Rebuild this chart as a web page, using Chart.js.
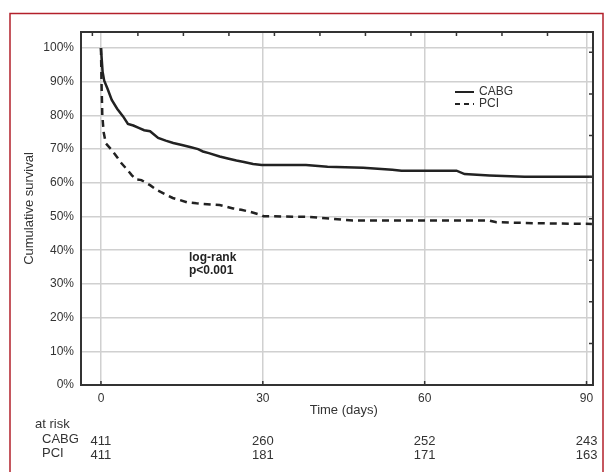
<!DOCTYPE html>
<html>
<head>
<meta charset="utf-8">
<script src="https://cdn.jsdelivr.net/npm/chart.js@4.4.1/dist/chart.umd.min.js"></script>
<style>
  html, body { margin: 0; padding: 0; background: #fff; }
  #wrap { position: relative; width: 606px; height: 472px; }
</style>
</head>
<body>
<div id="wrap"><canvas id="km" width="606" height="472"></canvas></div>
<script>
// Kaplan-Meier curves (days, % surviving)
var cabgDays = [0, 0.3, 0.6, 1.2, 2, 3, 4.1, 5, 6, 7, 8, 9.1, 10.6, 12, 13.4, 15, 16.5, 18, 18.9, 20, 22, 23.5, 25.1, 26.5, 28.2, 29.8, 38, 42, 48.6, 54, 55.7, 65.9, 67.4, 72, 78.5, 91];
var cabgSurv = [100, 93, 90.3, 88, 84.6, 82, 79.7, 77.5, 77, 76.3, 75.6, 75.3, 73.3, 72.5, 71.8, 71.2, 70.6, 70, 69.3, 68.8, 67.8, 67.2, 66.6, 66.2, 65.6, 65.3, 65.3, 64.8, 64.5, 63.9, 63.6, 63.6, 62.6, 62.2, 61.8, 61.8];
var pciDays = [0, 0.1, 0.25, 0.5, 0.9, 2, 3, 3.8, 4.8, 5.7, 6.5, 7.5, 9.1, 10.3, 12.2, 13.3, 14.6, 16, 17.7, 22, 24.5, 26, 27.6, 29.8, 30.1, 38.1, 42.4, 46.7, 72, 73.3, 80.7, 91];
var pciSurv = [100, 90, 80, 75, 71.7, 69.7, 67.6, 65.8, 64, 62.3, 61, 60.8, 59.3, 57.9, 56.4, 55.5, 54.9, 54.2, 53.9, 53.4, 52.4, 52, 51.4, 50.4, 50.1, 49.9, 49.4, 48.8, 48.8, 48.3, 48.0, 47.8];

var groups = ['CABG', 'PCI'];
var riskDays = [0, 30, 60, 90];
var cabgAtRisk = [411, 260, 252, 243];
var pciAtRisk = [411, 181, 171, 163];

function toPoints(xs, ys) {
    return xs.map(function (x, i) { return { x: x, y: ys[i] }; });
}

var FONT = '"Liberation Sans", Arial, Helvetica, sans-serif';
var INK = '#333';

// inward tick marks, table and annotations
var extras = {
    id: 'extras',
    afterDraw: function (chart) {
        var ctx = chart.ctx, a = chart.chartArea;
        var sx = chart.scales.x, sx2 = chart.scales.x2, sy2 = chart.scales.y2;
        ctx.save();
        ctx.strokeStyle = '#333';
        ctx.lineWidth = 1.5;
        ctx.beginPath();
        sx.ticks.forEach(function (t) {
            var p = sx.getPixelForValue(t.value);
            ctx.moveTo(p, a.bottom); ctx.lineTo(p, a.bottom - 4);
        });
        sx2.ticks.forEach(function (t) {
            var p = sx2.getPixelForValue(t.value);
            ctx.moveTo(p, a.top); ctx.lineTo(p, a.top + 4);
        });
        sy2.ticks.forEach(function (t) {
            var p = sy2.getPixelForValue(t.value);
            ctx.moveTo(a.right, p); ctx.lineTo(a.right - 4, p);
        });
        ctx.stroke();

        // legend
        ctx.font = '12px ' + FONT;
        ctx.fillStyle = INK;
        ctx.textBaseline = 'middle';
        ctx.textAlign = 'left';
        chart.data.datasets.forEach(function (ds, i) {
            var y = 92 + i * 12;
            ctx.strokeStyle = ds.borderColor;
            ctx.lineWidth = 2;
            ctx.setLineDash(ds.borderDash ? [5, 4] : []);
            ctx.beginPath();
            ctx.moveTo(455, y); ctx.lineTo(474, y);
            ctx.stroke();
            ctx.fillText(ds.label, 479, y);
        });
        ctx.setLineDash([]);

        // x title
        ctx.font = '13px ' + FONT;
        ctx.textAlign = 'center';
        ctx.fillText('Time (days)', sx.getPixelForValue(45), 410);

        // at-risk table
        ctx.textAlign = 'left';
        ctx.fillText('at risk', 35, 424);
        ctx.fillText(groups[0], 42, 439);
        ctx.fillText(groups[1], 42, 453);
        ctx.textAlign = 'center';
        riskDays.forEach(function (d, i) {
            var p = sx.getPixelForValue(d);
            ctx.fillText(String(cabgAtRisk[i]), p, 441);
            ctx.fillText(String(pciAtRisk[i]), p, 455);
        });

        // log-rank note
        ctx.font = 'bold 12px ' + FONT;
        ctx.fillStyle = '#222';
        ctx.textAlign = 'left';
        ctx.fillText('log-rank', 189, 258);
        ctx.fillText('p<0.001', 189, 271);

        // red frame
        ctx.strokeStyle = '#b3202b';
        ctx.lineWidth = 1.5;
        ctx.beginPath();
        ctx.moveTo(10, 480); ctx.lineTo(10, 13.5); ctx.lineTo(603, 13.5); ctx.lineTo(603, 480);
        ctx.stroke();
        ctx.restore();
    }
};

new Chart(document.getElementById('km'), {
    type: 'line',
    data: {
        datasets: [
            { label: groups[0], data: toPoints(cabgDays, cabgSurv), borderColor: '#222', borderWidth: 2.5, pointRadius: 0, fill: false, tension: 0 },
            { label: groups[1], data: toPoints(pciDays, pciSurv), borderColor: '#222', borderWidth: 2.5, borderDash: [7, 5], pointRadius: 0, fill: false, tension: 0 }
        ]
    },
    options: {
        responsive: false,
        animation: false,
        devicePixelRatio: 1,
        layout: { padding: { left: 0, top: 32, right: 13, bottom: 0 } },
        plugins: { legend: { display: false }, tooltip: { enabled: false } },
        scales: {
            x: {
                type: 'linear', position: 'bottom', min: -3.7, max: 91.2,
                ticks: { stepSize: 30, includeBounds: false, color: INK, font: { family: FONT, size: 12 }, padding: 6, maxRotation: 0 },
                grid: { color: '#d0d0d0', lineWidth: 1.5, drawTicks: false },
                border: { color: '#333', width: 2 },
                afterFit: function (s) { s.height = 87; }
            },
            x2: {
                type: 'linear', position: 'top', min: -0.25, max: 11,
                ticks: { display: false, stepSize: 1, includeBounds: false },
                grid: { drawOnChartArea: false, drawTicks: false },
                border: { color: '#333', width: 2 },
                afterFit: function (s) { s.height = 0; }
            },
            y: {
                type: 'linear', position: 'left', min: 0, max: 104.75,
                ticks: { stepSize: 10, includeBounds: false, color: INK, font: { family: FONT, size: 12 }, padding: 7,
                    callback: function (v) { return v + '%'; } },
                grid: { color: '#d0d0d0', lineWidth: 1.5, drawTicks: false },
                border: { color: '#333', width: 2 },
                title: { display: true, text: 'Cumulative survival', color: INK, font: { family: FONT, size: 13 }, padding: { top: 22, bottom: 0 } },
                afterFit: function (s) { s.width = 81; }
            },
            y2: {
                type: 'linear', position: 'right', min: 0, max: 8.49,
                ticks: { display: false, stepSize: 1, includeBounds: false },
                grid: { drawOnChartArea: false, drawTicks: false },
                border: { color: '#333', width: 2 },
                afterFit: function (s) { s.width = 0; }
            }
        }
    },
    plugins: [extras]
});
</script>
</body>
</html>
